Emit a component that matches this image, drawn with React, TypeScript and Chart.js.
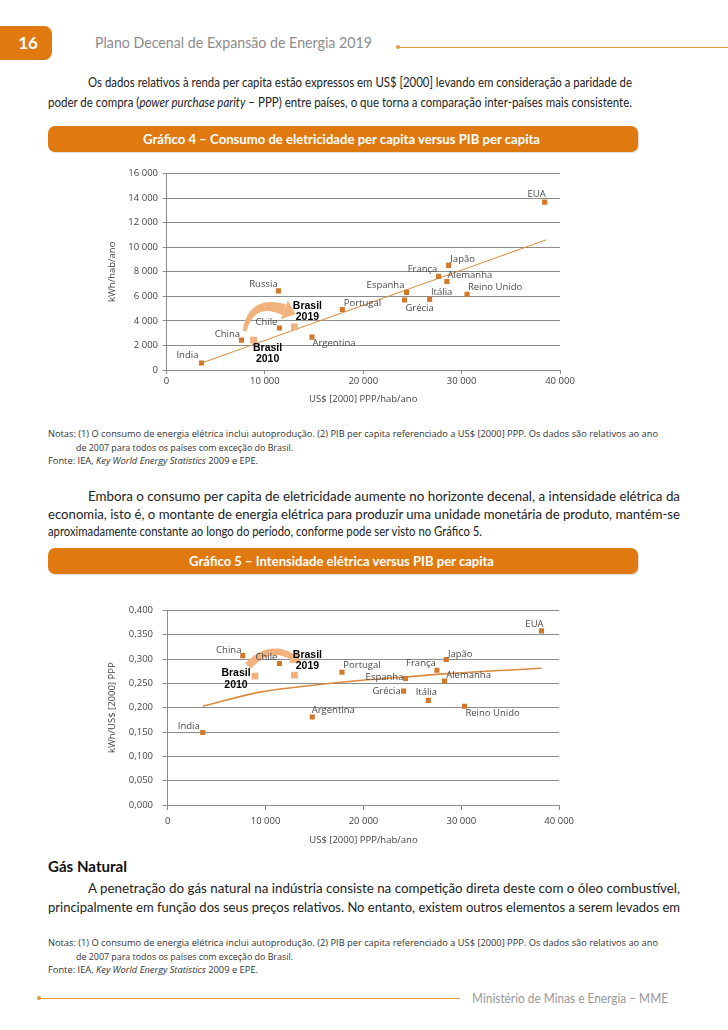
import React, { useEffect, useLayoutEffect, useRef } from "react";
import { Chart, registerables } from "chart.js";

Chart.register(...registerables);

// ---------- DATA: Gráfico 4 ----------
const countries1 = ["India", "China", "Russia", "Chile", "Argentina", "Portugal", "Espanha", "Grécia", "Itália", "França", "Alemanha", "Japão", "Reino Unido", "EUA"];
const gdp1 = [3550, 7620, 11380, 11480, 14790, 17880, 24400, 24200, 26750, 27650, 28500, 28680, 30550, 38440];
const elec1 = [570, 2430, 6440, 3420, 2680, 4930, 6320, 5700, 5750, 7620, 7210, 8520, 6160, 13670];
const brasilYears = ["2010", "2019"];
const brasilGdp1 = [8850, 13000];
const brasilElec1 = [2430, 3520];
const trend1X = [3400, 38600];
const trend1Y = [520, 10600];
const yTicks1 = [0, 2000, 4000, 6000, 8000, 10000, 12000, 14000, 16000];

// ---------- DATA: Gráfico 5 ----------
const countries2 = ["India", "China", "Chile", "Argentina", "Portugal", "Espanha", "Grécia", "Itália", "França", "Alemanha", "Japão", "Reino Unido", "EUA"];
const gdp2 = [3580, 7670, 11420, 14770, 17810, 24300, 24100, 26630, 27510, 28290, 28460, 30330, 38190];
const int2 = [0.149, 0.307, 0.291, 0.181, 0.273, 0.260, 0.234, 0.215, 0.277, 0.255, 0.299, 0.203, 0.358];
const brasilGdp2 = [8920, 12950];
const brasilInt2 = [0.265, 0.267];
const trend2X = [3600, 9400, 14400, 19000, 24300, 28600, 38200];
const trend2Y = [0.203, 0.232, 0.245, 0.255, 0.263, 0.270, 0.281];
const yTicks2 = [0, 0.05, 0.1, 0.15, 0.2, 0.25, 0.3, 0.35, 0.4];
const xTicks = [0, 10000, 20000, 30000, 40000];

// ---------- STYLE (not data) ----------
const ORANGE = "#E07A10";
const POINT = "#D2782A";
const LIGHT = "#F2B27E";
const TREND = "#D98A3C";
const GRID = "#8c8c8c";
const PAGE_FONT = 'Lato, "Liberation Sans", sans-serif';
const NOTE_FONT = '"Open Sans", Lato, sans-serif';
const BRASIL_FONT = '"Liberation Sans", Lato, sans-serif';
const CHART_FONT = '"Open Sans", "DejaVu Sans", sans-serif';

const labelOffsets1: [number, number][] = [[-14, -8], [-14, -6], [-15, -7], [-13, -6], [22, 6], [20, -6], [-21, -7], [15, 8], [12, -7], [-16, -7], [23, -6], [14, -6], [28, -7], [-8, -8]];
const brasilOffsets1: [number, number, number][] = [[14, 8, 19], [13, -21, -10]];
const labelOffsets2: [number, number][] = [[-14, -6], [-14, -5], [-13, -6], [21, -7], [20, -7], [-21, -1], [-17, 0], [-2, -8], [-16, -7], [24, -6], [14, -5], [28, 7], [-7, -7]];
const brasilOffsets2: [number, number, number][] = [[-19, -3, 9], [13, -20, -9]];

const pts = (xs: number[], ys: number[]) => xs.map((x, i) => ({ x, y: ys[i] }));
const fmtThousands = (v: number) => (v === 0 ? "0" : String(v).replace(/\B(?=(\d{3})+(?!\d))/g, " "));
const fmtDec = (v: number) => v.toFixed(3).replace(".", ",");

type P = { x: number; y: number };

function drawTaperedArrow(ctx: CanvasRenderingContext2D, T: P, C: P, B: P, w0: number, w1: number, headLen: number, headHalf: number, color: string) {
  const N = 30;
  const left: P[] = [];
  const right: P[] = [];
  for (let i = 0; i <= N; i++) {
    const t = i / N;
    const x = (1 - t) * (1 - t) * T.x + 2 * (1 - t) * t * C.x + t * t * B.x;
    const y = (1 - t) * (1 - t) * T.y + 2 * (1 - t) * t * C.y + t * t * B.y;
    const dx = 2 * (1 - t) * (C.x - T.x) + 2 * t * (B.x - C.x);
    const dy = 2 * (1 - t) * (C.y - T.y) + 2 * t * (B.y - C.y);
    const l = Math.hypot(dx, dy) || 1;
    const nx = -dy / l, ny = dx / l;
    const w = (w0 + (w1 - w0) * t) / 2;
    left.push({ x: x + nx * w, y: y + ny * w });
    right.push({ x: x - nx * w, y: y - ny * w });
  }
  ctx.save();
  ctx.fillStyle = color;
  ctx.beginPath();
  ctx.moveTo(left[0].x, left[0].y);
  left.forEach((p) => ctx.lineTo(p.x, p.y));
  for (let i = right.length - 1; i >= 0; i--) ctx.lineTo(right[i].x, right[i].y);
  ctx.closePath();
  ctx.fill();
  const dx = B.x - C.x, dy = B.y - C.y;
  const l = Math.hypot(dx, dy);
  const ux = dx / l, uy = dy / l, px = -uy, py = ux;
  ctx.beginPath();
  ctx.moveTo(B.x + ux * headLen, B.y + uy * headLen);
  ctx.lineTo(B.x + px * headHalf, B.y + py * headHalf);
  ctx.lineTo(B.x - px * headHalf, B.y - py * headHalf);
  ctx.closePath();
  ctx.fill();
  ctx.restore();
}

function makeAnnotPlugin(names: string[], offsets: [number, number][], bOffsets: [number, number, number][], arrow: (ctx: CanvasRenderingContext2D, p10: P, p19: P) => void) {
  return {
    id: "annot",
    beforeDatasetsDraw(chart: any) {
      const mb = chart.getDatasetMeta(1).data;
      arrow(chart.ctx, { x: mb[0].x, y: mb[0].y }, { x: mb[1].x, y: mb[1].y });
    },
    afterDatasetsDraw(chart: any) {
      const ctx: CanvasRenderingContext2D = chart.ctx;
      const m0 = chart.getDatasetMeta(0).data;
      const mb = chart.getDatasetMeta(1).data;
      ctx.save();
      ctx.textAlign = "center";
      ctx.textBaseline = "middle";
      ctx.font = `9.5px ${CHART_FONT}`;
      ctx.fillStyle = "#4a4a4a";
      names.forEach((n, i) => {
        const el = m0[i];
        ctx.fillText(n, el.x + offsets[i][0], el.y + offsets[i][1]);
      });
      ctx.font = `bold 10.5px ${BRASIL_FONT}`;
      ctx.fillStyle = "#000";
      brasilYears.forEach((yr, i) => {
        const el = mb[i];
        const o = bOffsets[i];
        ctx.fillText("Brasil", el.x + o[0], el.y + o[1]);
        ctx.fillText(yr, el.x + o[0], el.y + o[2]);
      });
      ctx.restore();
    },
  };
}

function baseScales(opts: any) {
  const tickFont = { family: CHART_FONT, size: 9.5 };
  return {
    x: {
      type: "linear",
      min: 0,
      max: 40000,
      afterBuildTicks: (s: any) => { s.ticks = xTicks.map((v) => ({ value: v })); },
      afterFit: (s: any) => { s.height = opts.xHeight; },
      ticks: { callback: (v: any) => fmtThousands(Number(v)), font: tickFont, color: "#444", padding: opts.xPad, maxRotation: 0, autoSkip: false },
      grid: { drawOnChartArea: false, drawTicks: true, tickLength: opts.xTick, color: GRID },
      border: { color: GRID },
      title: { display: true, text: "US$ [2000] PPP/hab/ano", font: tickFont, color: "#444", padding: { top: 0, bottom: opts.xTitlePad } },
    },
    y: {
      min: opts.yMin,
      max: opts.yMax,
      afterBuildTicks: (s: any) => { s.ticks = opts.yTicks.map((v: number) => ({ value: v })); },
      afterFit: (s: any) => { s.width = opts.yWidth; },
      ticks: { callback: opts.yFmt, font: tickFont, color: "#444", padding: opts.yPad, autoSkip: false },
      grid: { color: GRID, tickLength: opts.yTick },
      border: { color: GRID },
      title: { display: true, text: opts.yTitle, font: tickFont, color: "#444", padding: { top: 6.3, bottom: 0 } },
    },
  };
}

function config1(): any {
  return {
    type: "scatter",
    data: {
      datasets: [
        { data: pts(gdp1, elec1), pointStyle: "rect", pointRadius: 3.6, backgroundColor: POINT, borderWidth: 0 },
        { data: pts(brasilGdp1, brasilElec1), pointStyle: "rect", pointRadius: 4.8, backgroundColor: LIGHT, borderWidth: 0 },
        { data: pts(trend1X, trend1Y), showLine: true, borderColor: TREND, borderWidth: 1, pointRadius: 0, fill: false },
      ],
    },
    options: {
      responsive: false,
      animation: false,
      devicePixelRatio: 1,
      events: [],
      layout: { padding: { top: 13.5, right: 20, bottom: 0, left: 0 } },
      plugins: { legend: { display: false }, tooltip: { enabled: false } },
      scales: baseScales({
        xHeight: 40, xPad: 2, xTick: 4, xTitlePad: 5,
        yMin: 0, yMax: 16000, yTicks: yTicks1, yWidth: 66.5, yPad: 4.5, yTick: 4,
        yFmt: (v: any) => fmtThousands(Number(v)), yTitle: "kWh/hab/ano",
      }),
    },
    plugins: [
      makeAnnotPlugin(countries1, labelOffsets1, brasilOffsets1, (ctx, p10, p19) => {
        drawTaperedArrow(ctx, { x: p10.x - 9, y: p10.y - 9 }, { x: p10.x - 2, y: p19.y - 29 }, { x: p19.x - 10, y: p19.y - 17 }, 4, 11, 12, 10, LIGHT);
      }),
    ],
  };
}

function config2(): any {
  return {
    type: "scatter",
    data: {
      datasets: [
        { data: pts(gdp2, int2), pointStyle: "rect", pointRadius: 3.6, backgroundColor: POINT, borderWidth: 0 },
        { data: pts(brasilGdp2, brasilInt2), pointStyle: "rect", pointRadius: 4.8, backgroundColor: LIGHT, borderWidth: 0 },
        { data: pts(trend2X, trend2Y), showLine: true, borderColor: TREND, borderWidth: 1.6, pointRadius: 0, fill: false, cubicInterpolationMode: "monotone" },
      ],
    },
    options: {
      responsive: false,
      animation: false,
      devicePixelRatio: 1,
      events: [],
      layout: { padding: { top: 14, right: 18, bottom: 0, left: 0 } },
      plugins: { legend: { display: false }, tooltip: { enabled: false } },
      scales: baseScales({
        xHeight: 45, xPad: 6, xTick: 5, xTitlePad: 3.6,
        yMin: 0, yMax: 0.4, yTicks: yTicks2, yWidth: 67.7, yPad: 9.7, yTick: 5,
        yFmt: (v: any) => fmtDec(Number(v)), yTitle: "kWh/US$ [2000] PPP",
      }),
    },
    plugins: [
      makeAnnotPlugin(countries2, labelOffsets2, brasilOffsets2, (ctx, p10, p19) => {
        drawTaperedArrow(ctx, { x: p10.x - 7, y: p10.y - 10 }, { x: p10.x + 15, y: p19.y - 32 }, { x: p19.x - 2, y: p19.y - 18 }, 8, 6, 10, 7, LIGHT);
      }),
    ],
  };
}

function ChartCanvas({ make, left, top, width, height }: { make: () => any; left: number; top: number; width: number; height: number }) {
  const ref = useRef<HTMLCanvasElement | null>(null);
  useEffect(() => {
    if (!ref.current) return;
    const c = new Chart(ref.current, make());
    return () => c.destroy();
  }, []);
  return <canvas ref={ref} width={width} height={height} style={{ position: "absolute", left, top, width, height }} />;
}

// A single line of text fitted to a target horizontal extent [x, x + w].
function TextLine({ x, y, w, size, lh, children, justify, color, weight, font, spacing }: any) {
  const ref = useRef<HTMLDivElement | null>(null);
  const L = lh || Math.round(size * 1.3);
  useLayoutEffect(() => {
    const d = ref.current;
    if (!d) return;
    d.style.transform = "none";
    d.style.width = "max-content";
    const nat = d.getBoundingClientRect().width;
    if (justify && nat <= w) {
      d.style.width = w + "px";
    } else {
      d.style.width = nat + "px";
      d.style.transform = `scaleX(${w / nat})`;
    }
  }, []);
  return (
    <div
      ref={ref}
      style={{
        position: "absolute",
        left: x,
        top: y - L / 2,
        lineHeight: `${L}px`,
        fontSize: size,
        fontFamily: font || PAGE_FONT,
        color: color || "#222",
        fontWeight: weight || "normal",
        letterSpacing: spacing || "normal",
        whiteSpace: "nowrap",
        transformOrigin: "0 0",
        textAlign: justify ? "justify" : "left",
        textAlignLast: justify ? "justify" : "left",
      } as any}
    >
      {children}
    </div>
  );
}

function Banner({ y, text, tx, tw }: { y: number; text: string; tx: number; tw: number }) {
  return (
    <>
      <div
        style={{
          position: "absolute",
          left: 48,
          top: y,
          width: 590,
          height: 26,
          borderRadius: 7,
          background: ORANGE,
          boxShadow: "1px 1px 1px rgba(0,0,0,0.15)",
        }}
      />
      <TextLine x={tx} y={y + 13} w={tw} size={13} lh={18} color="#fff" weight="bold">{text}</TextLine>
    </>
  );
}

function Notes({ y }: { y: number }) {
  return (
    <>
      <TextLine x={48} y={y} w={610} size={9.5} lh={13} color="#333" font={NOTE_FONT} justify>
        Notas: (1) O consumo de energia elétrica inclui autoprodução. (2) PIB per capita referenciado a US$ [2000] PPP. Os dados são relativos ao ano
      </TextLine>
      <TextLine x={76} y={y + 14} w={217} size={9.5} lh={13} color="#333" font={NOTE_FONT}>
        de 2007 para todos os países com exceção do Brasil.
      </TextLine>
      <TextLine x={48} y={y + 27} w={210} size={9.5} lh={13} color="#333" font={NOTE_FONT}>
        Fonte: IEA, <i>Key World Energy Statistics</i> 2009 e EPE.
      </TextLine>
    </>
  );
}

export default function App() {
  return (
    <div style={{ position: "absolute", left: 0, top: 0, width: 728, height: 1030, background: "#fff", overflow: "hidden" }}>
      {/* header */}
      <div style={{ position: "absolute", left: 0, top: 26, width: 52, height: 34, background: ORANGE, borderRadius: "0 8px 8px 0", color: "#fff", fontFamily: PAGE_FONT, fontWeight: "bold", fontSize: 17, lineHeight: "34px", textAlign: "center", paddingLeft: 4, boxSizing: "border-box" }}>16</div>
      <TextLine x={95} y={42} w={277} size={15.5} lh={20} color="#8c8c8c">Plano Decenal de Expansão de Energia 2019</TextLine>
      <div style={{ position: "absolute", left: 397, top: 46.5, width: 331, height: 1, background: "#E39A3F" }} />
      <div style={{ position: "absolute", left: 395.5, top: 45, width: 4, height: 4, borderRadius: 2, background: "#E39A3F" }} />

      {/* paragraph 1 */}
      <TextLine x={88} y={82} w={544} size={13} justify>
        Os dados relativos à renda per capita estão expressos em US$ [2000] levando em consideração a paridade de
      </TextLine>
      <TextLine x={48} y={102} w={584} size={13} justify>
        poder de compra (<i>power purchase parity</i> – PPP) entre países, o que torna a comparação inter-países mais consistente.
      </TextLine>

      <Banner y={126} tx={143} tw={397} text="Gráfico 4 – Consumo de eletricidade per capita versus PIB per capita" />
      <ChartCanvas make={config1} left={100} top={160} width={480} height={250} />
      <Notes y={433} />

      {/* paragraph 2 */}
      <TextLine x={88} y={496} w={592} size={14} justify>
        Embora o consumo per capita de eletricidade aumente no horizonte decenal, a intensidade elétrica da
      </TextLine>
      <TextLine x={48} y={513.5} w={632} size={14} justify>
        economia, isto é, o montante de energia elétrica para produzir uma unidade monetária de produto, mantém-se
      </TextLine>
      <TextLine x={48} y={531} w={434} size={14}>
        aproximadamente constante ao longo do período, conforme pode ser visto no Gráfico 5.
      </TextLine>

      <Banner y={548} tx={189} tw={305} text="Gráfico 5 – Intensidade elétrica versus PIB per capita" />
      <ChartCanvas make={config2} left={100} top={595} width={480} height={255} />

      <TextLine x={48} y={866} w={79} size={14.5} weight="bold" color="#111">Gás Natural</TextLine>
      <TextLine x={88} y={888} w={592} size={14} justify>
        A penetração do gás natural na indústria consiste na competição direta deste com o óleo combustível,
      </TextLine>
      <TextLine x={48} y={907} w={632} size={14} justify>
        principalmente em função dos seus preços relativos. No entanto, existem outros elementos a serem levados em
      </TextLine>

      <Notes y={942} />

      {/* footer */}
      <div style={{ position: "absolute", left: 38, top: 997.5, width: 422, height: 1, background: "#E39A3F" }} />
      <div style={{ position: "absolute", left: 36.5, top: 996, width: 4, height: 4, borderRadius: 2, background: "#E39A3F" }} />
      <TextLine x={472} y={998} w={196} size={13.5} lh={18} color="#999">Ministério de Minas e Energia – MME</TextLine>
    </div>
  );
}
